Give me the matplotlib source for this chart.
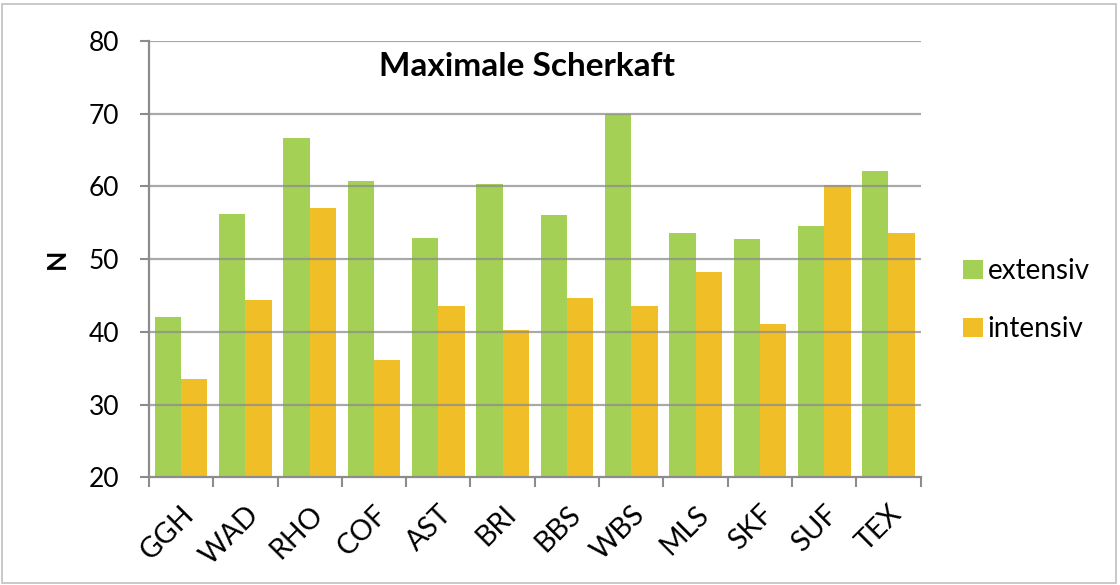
import numpy as np
import matplotlib
matplotlib.use("Agg")
import matplotlib.pyplot as plt
from matplotlib.patches import Rectangle

plt.rcParams['font.family'] = ['Lato', 'DejaVu Sans']

# data
categories = ["GGH", "WAD", "RHO", "COF", "AST", "BRI", "BBS", "WBS", "MLS", "SKF", "SUF", "TEX"]
extensiv = [42.0, 56.2, 66.6, 60.8, 52.9, 60.3, 56.1, 70.0, 53.6, 52.8, 54.5, 62.1]
intensiv = [33.5, 44.4, 57.0, 36.2, 43.6, 40.3, 44.6, 43.5, 48.2, 41.1, 60.2, 53.6]
y_ticks = [20, 30, 40, 50, 60, 70, 80]

green = "#a4d055"
yellow = "#f0bf28"
grid_col = "#8c8c8c"

fig = plt.figure(figsize=(11.2, 5.85), dpi=100)
ax = fig.add_axes([0.133, 0.184, 0.689, 0.746])

x = np.arange(len(categories))
w = 0.41
ax.bar(x - w / 2, np.array(extensiv) - 20, w, bottom=20, color=green, label="extensiv", zorder=1)
ax.bar(x + w / 2, np.array(intensiv) - 20, w, bottom=20, color=yellow, label="intensiv", zorder=1)

ax.set_xlim(-0.5, len(categories) - 0.5)
ax.set_ylim(20, 80)
ax.set_yticks(y_ticks)
ax.set_yticklabels([str(v) for v in y_ticks], fontsize=19)

# gridlines on top of bars, slightly see-through
for v in y_ticks[1:]:
    ax.axhline(v, color=grid_col, lw=1.6, alpha=0.75, zorder=3)

# category ticks sit between groups
ax.set_xticks(np.arange(-0.5, len(categories), 1.0))
ax.set_xticklabels([])
ax.set_xticks(x, minor=True)
ax.set_xticklabels(categories, minor=True, rotation=45, ha="right", va="top",
                   fontsize=20.5, rotation_mode="anchor")
ax.tick_params(axis="x", which="minor", length=0, pad=17)
ax.tick_params(axis="x", which="major", length=7, width=1.5, color=grid_col, direction="out")
ax.tick_params(axis="y", length=6.5, width=1.5, color=grid_col, direction="out", pad=15)

for s in ["top", "right"]:
    ax.spines[s].set_visible(False)
for s in ["left", "bottom"]:
    ax.spines[s].set_color(grid_col)
    ax.spines[s].set_linewidth(1.6)

ax.set_ylabel("N", fontsize=19, fontweight="bold", labelpad=14)
ax.text(0.49, 0.975, "Maximale Scherkaft", transform=ax.transAxes, ha="center", va="top",
        fontsize=24, fontweight="bold")

leg = ax.legend(loc="center left", bbox_to_anchor=(1.03, 0.406), frameon=False, fontsize=20,
                handlelength=0.72, handleheight=0.72, handletextpad=0.15, labelspacing=1.15,
                borderaxespad=0.3)

# light frame around the chart
fig.patches.append(Rectangle((0.002, 0.004), 0.994, 0.99, transform=fig.transFigure,
                             fill=False, edgecolor="#c0c0c0", lw=1.2))

fig.savefig("out.png", dpi=100)
